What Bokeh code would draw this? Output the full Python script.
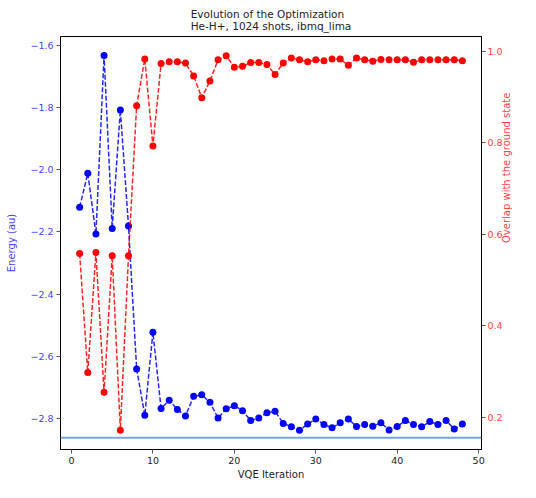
import math
from bokeh.plotting import figure
from bokeh.models import Range1d, LinearAxis, FixedTicker, Span, ColumnDataSource
from bokeh.embed import file_html
from bokeh.resources import INLINE

iters = list(range(1, 49))
energy = [-2.121, -2.012, -2.207, -1.633, -2.189, -1.808, -2.181, -2.641, -2.790, -2.523,
          -2.768, -2.742, -2.771, -2.792, -2.729, -2.724, -2.748, -2.799, -2.769, -2.759,
          -2.775, -2.807, -2.799, -2.782, -2.777, -2.816, -2.827, -2.838, -2.818, -2.802,
          -2.820, -2.830, -2.814, -2.802, -2.826, -2.820, -2.825, -2.814, -2.837, -2.826,
          -2.807, -2.820, -2.827, -2.810, -2.820, -2.807, -2.834, -2.818]
overlap = [0.558, 0.298, 0.560, 0.255, 0.553, 0.172, 0.553, 0.881, 0.983, 0.793,
           0.973, 0.977, 0.977, 0.974, 0.946, 0.898, 0.935, 0.981, 0.990, 0.965,
           0.967, 0.975, 0.975, 0.971, 0.949, 0.974, 0.985, 0.981, 0.977, 0.981,
           0.979, 0.983, 0.983, 0.969, 0.985, 0.981, 0.978, 0.982, 0.981, 0.981,
           0.981, 0.976, 0.981, 0.981, 0.981, 0.981, 0.981, 0.979]
ground_energy = -2.862

x_ticks = [0, 10, 20, 30, 40, 50]
energy_ticks = [-2.8, -2.6, -2.4, -2.2, -2.0, -1.8, -1.6]
overlap_ticks = [0.2, 0.4, 0.6, 0.8, 1.0]

FONT = "DejaVu Sans"
BLUE = "#0000ff"
RED = "#ff0000"
BLUE_TXT = "#4444ff"
RED_TXT = "#ff4444"

src = ColumnDataSource(dict(x=iters, e=energy, o=overlap))

p = figure(width=520, height=482, output_backend="svg", toolbar_location=None,
           x_range=Range1d(-1.35, 50.35), y_range=Range1d(-2.900, -1.572),
           title="Evolution of the Optimization\nHe-H+, 1024 shots, ibmq_lima",
           min_border_left=60, min_border_right=26, min_border_top=36, min_border_bottom=28)
p.extra_y_ranges = {"ov": Range1d(0.130, 1.032)}

p.title.align = "center"
p.title.text_font = FONT
p.title.text_font_size = "10.5px"
p.title.text_font_style = "normal"
p.title.text_color = "#222222"

p.xgrid.visible = False
p.ygrid.visible = False
p.outline_line_color = "black"
p.outline_line_width = 1
p.background_fill_color = "white"

# ground-state line
p.add_layout(Span(location=ground_energy, dimension="width", line_color="#77a3ee", line_width=2))

# energy series
p.line("x", "e", source=src, line_color=BLUE, line_width=1.5, line_dash="5 2", line_alpha=0.85)
p.scatter("x", "e", source=src, size=7, fill_color=BLUE, line_color=None)

# overlap series
p.line("x", "o", source=src, y_range_name="ov", line_color=RED, line_width=1.5, line_dash="5 2", line_alpha=0.85)
p.scatter("x", "o", source=src, y_range_name="ov", size=7, fill_color=RED, line_color=None)

right = LinearAxis(y_range_name="ov")
p.add_layout(right, "right")

def style_axis(ax, ticks, txt_color, label, label_standoff, major_standoff=3):
    ax.ticker = FixedTicker(ticks=ticks)
    ax.major_label_overrides = {t: (f"{t:.1f}" if isinstance(t, float) else str(t)).replace("-", "\u2212") for t in ticks}
    ax.major_label_text_font = FONT
    ax.major_label_text_font_size = "9.5px"
    ax.major_label_text_color = txt_color
    ax.axis_label = label
    ax.axis_label_text_font = FONT
    ax.axis_label_text_font_size = "10px"
    ax.axis_label_text_font_style = "normal"
    ax.axis_label_text_color = txt_color
    ax.axis_line_color = "black"
    ax.major_tick_line_color = "#555555"
    ax.major_tick_in = 0
    ax.major_tick_out = 4
    ax.minor_tick_line_color = None
    ax.major_label_standoff = major_standoff
    ax.axis_label_standoff = label_standoff

style_axis(p.xaxis[0], x_ticks, "#222222", "VQE Iteration", 2)
style_axis(p.yaxis[0], energy_ticks, BLUE_TXT, "Energy (au)", 10)
style_axis(right, overlap_ticks, RED_TXT, "Overlap with the ground state", 1, 2)
try:
    right.axis_label_orientation = math.pi / 2
except Exception:
    pass

open("out.html", "w").write(file_html(p, INLINE))
